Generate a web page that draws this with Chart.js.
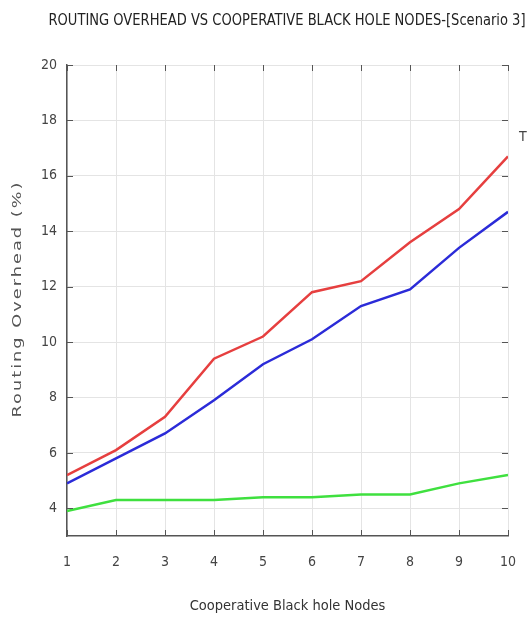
<!DOCTYPE html>
<html>
<head>
<meta charset="utf-8">
<script src="https://cdn.jsdelivr.net/npm/chart.js@4"></script>
<style>
  html, body { margin: 0; padding: 0; background: #fff; }
</style>
</head>
<body>
<canvas id="overheadChart" width="528" height="620"></canvas>
<script>
const nodes = [1, 2, 3, 4, 5, 6, 7, 8, 9, 10];
const redSeries = [5.2, 6.1, 7.3, 9.4, 10.2, 11.8, 12.2, 13.6, 14.8, 16.7];
const blueSeries = [4.9, 5.8, 6.7, 7.9, 9.2, 10.1, 11.3, 11.9, 13.4, 14.7];
const greenSeries = [3.9, 4.3, 4.3, 4.3, 4.4, 4.4, 4.5, 4.5, 4.9, 5.2];
const yTicks = [4, 6, 8, 10, 12, 14, 16, 18, 20];

const chartTitle = "ROUTING OVERHEAD VS COOPERATIVE BLACK HOLE NODES-[Scenario 3]";
const yTitle = "Routing Overhead (%)";

const narrow = "'DejaVu Sans Condensed', 'Liberation Sans Narrow', sans-serif";

function toPoints(vals) {
  return vals.map((v, i) => ({ x: nodes[i], y: v }));
}

// inward tick marks on all four sides, the titles and the cut-off legend letter
const decorations = {
  id: "decorations",
  afterDraw(chart) {
    const ctx = chart.ctx;
    const a = chart.chartArea;
    const xs = chart.scales.x, ys = chart.scales.y;
    ctx.save();
    ctx.strokeStyle = "#555";
    ctx.lineWidth = 1;
    ctx.beginPath();
    nodes.forEach(n => {
      const px = Math.round(xs.getPixelForValue(n)) + 0.5;
      ctx.moveTo(px, a.bottom); ctx.lineTo(px, a.bottom - 6);
      ctx.moveTo(px, a.top); ctx.lineTo(px, a.top + 6);
    });
    yTicks.forEach(t => {
      const py = Math.round(ys.getPixelForValue(t)) + 0.5;
      ctx.moveTo(a.left, py); ctx.lineTo(a.left + 6, py);
      ctx.moveTo(a.right, py); ctx.lineTo(a.right - 6, py);
    });
    ctx.stroke();

    ctx.fillStyle = "#222";
    ctx.textAlign = "center";
    ctx.textBaseline = "middle";
    ctx.font = "15px " + narrow;
    ctx.fillText(chartTitle, 287, 21, 477);

    // rotated y title, stretched to the length it has in the picture
    ctx.save();
    ctx.translate(18, 299);
    ctx.rotate(-Math.PI / 2);
    ctx.fillStyle = "#555";
    ctx.font = "13px 'DejaVu Sans', sans-serif";
    ctx.letterSpacing = "1.5px";
    const w = ctx.measureText(yTitle).width;
    ctx.scale(237 / w, 1);
    ctx.fillText(yTitle, 0, 0);
    ctx.restore();

    ctx.fillStyle = "#444";
    ctx.font = "14px " + narrow;
    ctx.textAlign = "left";
    ctx.fillText("T", a.right + 11, ys.getPixelForValue(17.4));
    ctx.restore();
  }
};

new Chart(document.getElementById("overheadChart"), {
  type: "line",
  data: {
    datasets: [
      { data: toPoints(redSeries), borderColor: "#e63f3f", borderWidth: 2.5, pointRadius: 0, tension: 0 },
      { data: toPoints(blueSeries), borderColor: "#2b2bd8", borderWidth: 2.5, pointRadius: 0, tension: 0 },
      { data: toPoints(greenSeries), borderColor: "#3fe03f", borderWidth: 2.5, pointRadius: 0, tension: 0 }
    ]
  },
  options: {
    responsive: false,
    animation: false,
    layout: { padding: { left: 4, right: 20, top: 65, bottom: 0 } },
    plugins: {
      legend: { display: false },
      tooltip: { enabled: false },
      title: { display: false }
    },
    scales: {
      x: {
        type: "linear",
        min: 1,
        max: 10,
        afterFit(scale) {
          scale.height = 84;
          scale.paddingLeft = 0;
          scale.paddingRight = 0;
        },
        ticks: { stepSize: 1, color: "#444", font: { family: narrow, size: 14 }, padding: 18 },
        grid: { color: "#e4e4e4", drawTicks: false },
        border: { color: "#555", width: 1.5 },
        title: {
          display: true,
          text: "Cooperative Black hole Nodes",
          color: "#333",
          font: { family: narrow, size: 14.5 },
          padding: { top: 0, bottom: 5 }
        }
      },
      y: {
        min: 3,
        max: 20,
        afterFit(scale) { scale.width = 63; },
        afterBuildTicks(scale) {
          scale.ticks = yTicks.map(v => ({ value: v }));
        },
        ticks: { color: "#444", font: { family: narrow, size: 14 }, padding: 10 },
        grid: { color: "#e4e4e4", drawTicks: false },
        border: { color: "#555", width: 1.5 }
      }
    }
  },
  plugins: [decorations]
});
</script>
</body>
</html>
